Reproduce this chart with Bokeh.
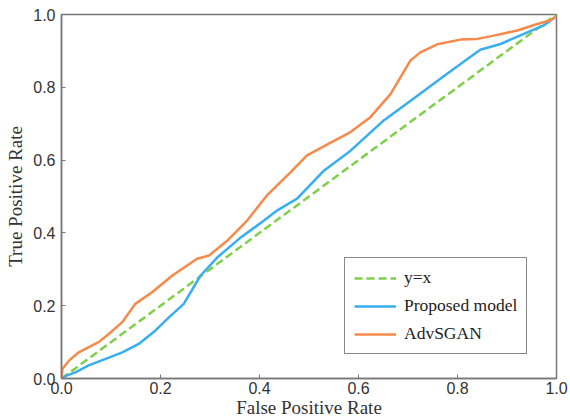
from bokeh.plotting import figure
from bokeh.models import Legend, LegendItem, FixedTicker
from bokeh.embed import file_html
from bokeh.resources import INLINE

diag_x = [0.0, 1.0]
diag_y = [0.0, 1.0]

proposed_fpr = [0.0, 0.01, 0.028, 0.055, 0.089, 0.123, 0.156, 0.19, 0.217, 0.247, 0.281, 0.315,
                0.36, 0.409, 0.436, 0.476, 0.53, 0.584, 0.651, 0.719, 0.779, 0.846, 0.887,
                0.934, 0.974, 1.0]
proposed_tpr = [0.0, 0.008, 0.017, 0.036, 0.054, 0.072, 0.095, 0.132, 0.168, 0.205, 0.283, 0.333,
                0.385, 0.434, 0.462, 0.494, 0.571, 0.626, 0.709, 0.777, 0.837, 0.903, 0.919,
                0.947, 0.97, 0.995]

adv_fpr = [0.0, 0.002, 0.015, 0.035, 0.055, 0.075, 0.096, 0.123, 0.149, 0.183, 0.224, 0.274,
           0.298, 0.336, 0.375, 0.415, 0.463, 0.496, 0.54, 0.584, 0.624, 0.665, 0.685, 0.705,
           0.725, 0.759, 0.806, 0.84, 0.873, 0.921, 0.961, 0.988, 1.0]
adv_tpr = [0.0, 0.027, 0.049, 0.072, 0.086, 0.1, 0.123, 0.155, 0.205, 0.237, 0.283, 0.329,
           0.338, 0.38, 0.434, 0.503, 0.567, 0.613, 0.645, 0.677, 0.718, 0.782, 0.828, 0.874,
           0.896, 0.918, 0.931, 0.933, 0.942, 0.956, 0.974, 0.984, 0.995]

ticks = [0.0, 0.2, 0.4, 0.6, 0.8, 1.0]
tick_labels = ["0.0", "0.2", "0.4", "0.6", "0.8", "1.0"]

p = figure(width=570, height=420, x_range=(0, 1), y_range=(0, 1),
           output_backend="svg", toolbar_location=None,
           min_border_left=61, min_border_right=14, min_border_top=14, min_border_bottom=42)
p.grid.visible = False
p.outline_line_color = "#777777"
p.outline_line_width = 1.5

for ax in (p.xaxis[0], p.yaxis[0]):
    ax.ticker = FixedTicker(ticks=ticks)
    ax.major_label_overrides = {t: s for t, s in zip(ticks, tick_labels)}
    ax.minor_tick_line_color = None
    ax.major_tick_in = 4
    ax.major_tick_out = 0
    ax.major_tick_line_color = "#777777"
    ax.axis_line_color = "#777777"
    ax.axis_line_width = 1.5
    ax.major_label_text_font = "Liberation Sans"
    ax.major_label_text_font_size = "16px"
    ax.major_label_text_color = "#333333"
    ax.axis_label_text_font = "Liberation Serif"
    ax.axis_label_text_font_size = "19px"
    ax.axis_label_text_font_style = "normal"
    ax.axis_label_text_color = "#333333"

p.xaxis.axis_label = "False Positive Rate"
p.yaxis.axis_label = "True Positive Rate"
p.xaxis.major_label_standoff = 3
p.xaxis.axis_label_standoff = 0
p.yaxis.major_label_standoff = 6
p.yaxis.axis_label_standoff = 4

r_diag = p.line(diag_x, diag_y, line_color="#7ED04B", line_width=2.5, line_dash="8 4")
r_prop = p.line(proposed_fpr, proposed_tpr, line_color="#38AEF0", line_width=2.5)
r_adv = p.line(adv_fpr, adv_tpr, line_color="#F58A4B", line_width=2.5)

legend = Legend(items=[LegendItem(label="y=x", renderers=[r_diag]),
                       LegendItem(label="Proposed model", renderers=[r_prop]),
                       LegendItem(label="AdvSGAN", renderers=[r_adv])],
                location=(283, 24))
legend.border_line_color = "#111111"
legend.border_line_width = 1.5
legend.background_fill_alpha = 1.0
legend.label_text_font = "Liberation Serif"
legend.label_text_font_size = "17.5px"
legend.label_text_color = "#222222"
legend.glyph_width = 42
legend.glyph_height = 20
legend.label_height = 20
legend.label_standoff = 8
legend.spacing = 7
legend.padding = 9
legend.margin = 0
p.add_layout(legend, "center")

open("out.html", "w").write(file_html(p, INLINE))
